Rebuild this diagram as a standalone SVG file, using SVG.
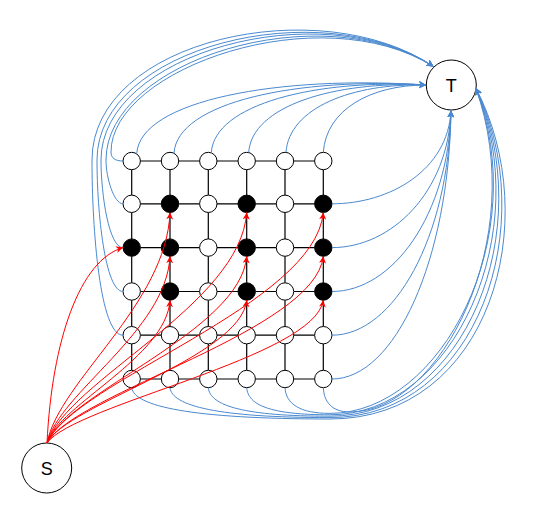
<svg xmlns="http://www.w3.org/2000/svg" width="535" height="514" viewBox="0 0 535 514">
<style>
.n{fill:#fff;stroke:#000;stroke-width:1}
.f{fill:#000;stroke:#000;stroke-width:1}
.g{stroke:#000;stroke-width:1.2;fill:none}
.b{stroke:#4a89cf;stroke-width:1;fill:none;marker-end:url(#ab)}
.r{stroke:#ff0000;stroke-width:1;fill:none;marker-end:url(#ar)}
.big{fill:#fff;stroke:#000;stroke-width:1}
.lbl{font-family:"Liberation Sans",Arial,sans-serif;font-size:18px;fill:#000;text-anchor:middle}
</style>
<defs>
<marker id="ab" viewBox="0 0 10 10" refX="10" refY="5" markerWidth="7" markerHeight="7" markerUnits="userSpaceOnUse" orient="auto"><path d="M0,0 L10,5 L0,10 L3,5 Z" fill="#4a89cf"/></marker>
<marker id="ar" viewBox="0 0 10 10" refX="10" refY="5" markerWidth="7" markerHeight="7" markerUnits="userSpaceOnUse" orient="auto"><path d="M0,0 L10,5 L0,10 L3,5 Z" fill="#ff0000"/></marker>
</defs>

<g id="grid-edges">
<path class="g" d="M140.4,161 H161.3 M178.7,161 H199.6 M217,161 H238 M255.4,161 H276.3 M293.7,161 H314.6"/>
<path class="g" d="M140.4,203.8 H161.3 M178.7,203.8 H199.6 M217,203.8 H238 M255.4,203.8 H276.3 M293.7,203.8 H314.6"/>
<path class="g" d="M140.4,247.6 H161.3 M178.7,247.6 H199.6 M217,247.6 H238 M255.4,247.6 H276.3 M293.7,247.6 H314.6"/>
<path class="g" d="M140.4,291.5 H161.3 M178.7,291.5 H199.6 M217,291.5 H238 M255.4,291.5 H276.3 M293.7,291.5 H314.6"/>
<path class="g" d="M140.4,335.2 H161.3 M178.7,335.2 H199.6 M217,335.2 H238 M255.4,335.2 H276.3 M293.7,335.2 H314.6"/>
<path class="g" d="M140.4,379 H161.3 M178.7,379 H199.6 M217,379 H238 M255.4,379 H276.3 M293.7,379 H314.6"/>
<path class="g" d="M131.7,169.7 V195.1 M131.7,212.5 V238.9 M131.7,256.3 V282.8 M131.7,300.2 V326.5 M131.7,343.9 V370.3"/>
<path class="g" d="M170,169.7 V195.1 M170,212.5 V238.9 M170,256.3 V282.8 M170,300.2 V326.5 M170,343.9 V370.3"/>
<path class="g" d="M208.3,169.7 V195.1 M208.3,212.5 V238.9 M208.3,256.3 V282.8 M208.3,300.2 V326.5 M208.3,343.9 V370.3"/>
<path class="g" d="M246.7,169.7 V195.1 M246.7,212.5 V238.9 M246.7,256.3 V282.8 M246.7,300.2 V326.5 M246.7,343.9 V370.3"/>
<path class="g" d="M285,169.7 V195.1 M285,212.5 V238.9 M285,256.3 V282.8 M285,300.2 V326.5 M285,343.9 V370.3"/>
<path class="g" d="M323.3,169.7 V195.1 M323.3,212.5 V238.9 M323.3,256.3 V282.8 M323.3,300.2 V326.5 M323.3,343.9 V370.3"/>
</g>

<g id="node-S"><circle class="big" cx="46.7" cy="468" r="25"/><text class="lbl" x="46.7" y="474.5">S</text></g>
<g id="node-T"><circle class="big" cx="451.3" cy="85" r="25"/><text class="lbl" x="451.3" y="91.5">T</text></g>

<g id="n11"><circle class="n" cx="131.7" cy="161" r="8.7"/></g>
<g id="n12"><circle class="n" cx="170" cy="161" r="8.7"/></g>
<g id="n13"><circle class="n" cx="208.3" cy="161" r="8.7"/></g>
<g id="n14"><circle class="n" cx="246.7" cy="161" r="8.7"/></g>
<g id="n15"><circle class="n" cx="285" cy="161" r="8.7"/></g>
<g id="n16"><circle class="n" cx="323.3" cy="161" r="8.7"/></g>
<g id="n21"><circle class="n" cx="131.7" cy="203.8" r="8.7"/></g>
<g id="n22"><circle class="f" cx="170" cy="203.8" r="8.7"/></g>
<g id="n23"><circle class="n" cx="208.3" cy="203.8" r="8.7"/></g>
<g id="n24"><circle class="f" cx="246.7" cy="203.8" r="8.7"/></g>
<g id="n25"><circle class="n" cx="285" cy="203.8" r="8.7"/></g>
<g id="n26"><circle class="f" cx="323.3" cy="203.8" r="8.7"/></g>
<g id="n31"><circle class="f" cx="131.7" cy="247.6" r="8.7"/></g>
<g id="n32"><circle class="f" cx="170" cy="247.6" r="8.7"/></g>
<g id="n33"><circle class="n" cx="208.3" cy="247.6" r="8.7"/></g>
<g id="n34"><circle class="f" cx="246.7" cy="247.6" r="8.7"/></g>
<g id="n35"><circle class="n" cx="285" cy="247.6" r="8.7"/></g>
<g id="n36"><circle class="f" cx="323.3" cy="247.6" r="8.7"/></g>
<g id="n41"><circle class="n" cx="131.7" cy="291.5" r="8.7"/></g>
<g id="n42"><circle class="f" cx="170" cy="291.5" r="8.7"/></g>
<g id="n43"><circle class="n" cx="208.3" cy="291.5" r="8.7"/></g>
<g id="n44"><circle class="f" cx="246.7" cy="291.5" r="8.7"/></g>
<g id="n45"><circle class="n" cx="285" cy="291.5" r="8.7"/></g>
<g id="n46"><circle class="f" cx="323.3" cy="291.5" r="8.7"/></g>
<g id="n51"><circle class="n" cx="131.7" cy="335.2" r="8.7"/></g>
<g id="n52"><circle class="n" cx="170" cy="335.2" r="8.7"/></g>
<g id="n53"><circle class="n" cx="208.3" cy="335.2" r="8.7"/></g>
<g id="n54"><circle class="n" cx="246.7" cy="335.2" r="8.7"/></g>
<g id="n55"><circle class="n" cx="285" cy="335.2" r="8.7"/></g>
<g id="n56"><circle class="n" cx="323.3" cy="335.2" r="8.7"/></g>
<g id="n61"><circle class="n" cx="131.7" cy="379" r="8.7"/></g>
<g id="n62"><circle class="n" cx="170" cy="379" r="8.7"/></g>
<g id="n63"><circle class="n" cx="208.3" cy="379" r="8.7"/></g>
<g id="n64"><circle class="n" cx="246.7" cy="379" r="8.7"/></g>
<g id="n65"><circle class="n" cx="285" cy="379" r="8.7"/></g>
<g id="n66"><circle class="n" cx="323.3" cy="379" r="8.7"/></g>

<g id="connectors">
<!-- top row to T left -->
<path class="b" d="M136.7,153.9 C139.7,100 280,75 426,85"/>
<path class="b" d="M174,153.3 C177,102 298,77 426,85"/>
<path class="b" d="M211.3,152.8 C214.3,104 316,79 426,85"/>
<path class="b" d="M248.7,152.5 C251.7,106 334,81 426,85"/>
<path class="b" d="M286,152.4 C289,108 352,83 426,85"/>
<path class="b" d="M323.3,152.3 C326.3,110 370,85 426,85"/>
<!-- left column to T top-left -->
<path class="b" d="M123,335.2 C100,335.2 92,230 92,160 C92,40 320,-10 433.5,66.5"/>
<path class="b" d="M123,291.5 C105,291.5 97,212 97,160 C97,47.5 320,-8.5 433.5,66.5"/>
<path class="b" d="M123,247.6 C109,247.6 101,195 101,160 C101,53.5 320,-7.3 433.5,66.5"/>
<path class="b" d="M123,203.8 C114,203.8 106,178 106,160 C106,61 320,-5.8 433.5,66.5"/>
<path class="b" d="M123,161 C115,161 111,158 111,152 C111,68.5 320,-4.3 433.5,66.5"/>
<!-- right column to T bottom -->
<path class="b" d="M332,203.8 C390,203.8 448,170 451,110.5"/>
<path class="b" d="M332,247.6 C391.25,247.6 448.25,192.5 451,110.5"/>
<path class="b" d="M332,291.5 C392.5,291.5 448.5,215 451,110.5"/>
<path class="b" d="M332,335.2 C393.75,335.2 448.75,237.5 451,110.5"/>
<path class="b" d="M332,379 C395,379 449,260 451,110.5"/>
<!-- bottom row to T right -->
<path class="b" d="M131.7,387.7 C134,406 190,419 330,419 C490,419 545,220 475.8,88"/>
<path class="b" d="M170,387.7 C172,406 218,417.6 330,417.6 C478,417.6 542,224 475.8,88"/>
<path class="b" d="M208.3,387.7 C210,406 245,416.2 330,416.2 C466,416.2 539,228 475.8,88"/>
<path class="b" d="M246.7,387.7 C248,405 270,414.8 330,414.8 C454,414.8 536,232 475.8,88"/>
<path class="b" d="M285,387.7 C286,404 300,413.4 330,413.4 C442,413.4 533,236 475.8,88"/>
<path class="b" d="M323.3,387.7 C324,402 332,412 350,412 C440,412 530,240 475.8,88"/>
<!-- S to seeds -->
<path class="r" d="M47,443 C52,340 80,260 123,247.6"/>
<path class="r" d="M47,443 C59.3,380.8 166.3,304.7 170,212.5"/>
<path class="r" d="M47,443 C67,380.8 240.7,304.7 246.7,212.5"/>
<path class="r" d="M47,443 C74.6,380.8 315,304.7 323.3,212.5"/>
<path class="r" d="M47,443 C59.3,392.6 166.3,331 170,256.3"/>
<path class="r" d="M47,443 C67,392.6 240.7,331 246.7,256.3"/>
<path class="r" d="M47,443 C74.6,392.6 315,331 323.3,256.3"/>
<path class="r" d="M47,443 C59.3,404.4 166.3,357.3 170,300.2"/>
<path class="r" d="M47,443 C67,404.4 240.7,357.3 246.7,300.2"/>
<path class="r" d="M47,443 C74.6,404.4 315,357.3 323.3,300.2"/>
</g>
</svg>
